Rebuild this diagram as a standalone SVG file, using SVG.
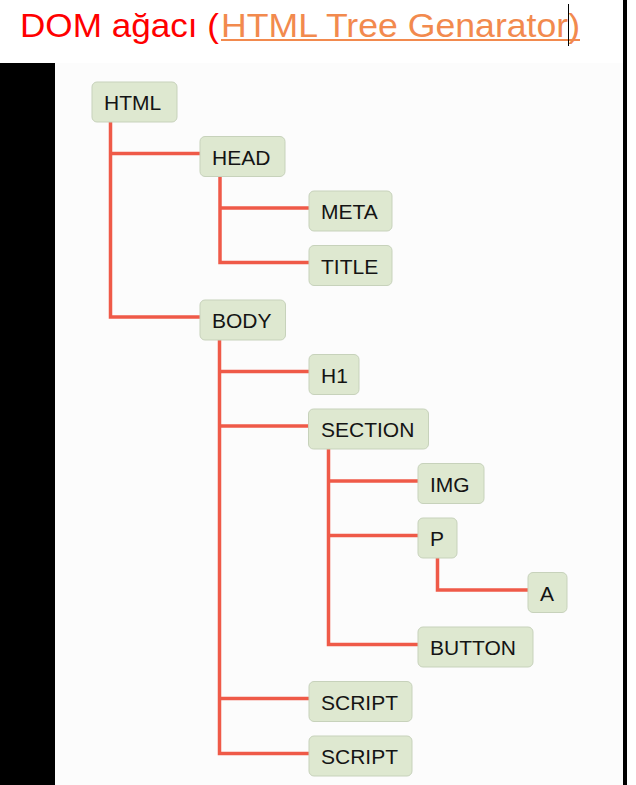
<svg xmlns="http://www.w3.org/2000/svg" width="636" height="785" viewBox="0 0 636 785">
  <style>
    .box { fill: #dee8d0; stroke: #c7d2bb; stroke-width: 1; }
    .lbl { font-family: "Liberation Sans", Arial, sans-serif; font-size: 21px; fill: #141414; }
    .conn { fill: none; stroke: #ef5a48; stroke-width: 3.5; stroke-linejoin: miter; }
    .title { font-family: "Liberation Sans", Arial, sans-serif; font-size: 34px; }
  </style>
  <rect x="0" y="0" width="636" height="785" fill="#ffffff"/>
  <rect x="55" y="63" width="568" height="722" fill="#fcfcfc"/>
  <rect x="0" y="63" width="55" height="722" fill="#000000"/>
  <rect x="623" y="0" width="4" height="785" fill="#000000"/>

  <g id="title">
    <text class="title" x="20" y="37" fill="#ff0000" textLength="199" lengthAdjust="spacingAndGlyphs">DOM ağacı (</text>
    <text class="title" x="221" y="37" fill="#f28a4e" textLength="359" lengthAdjust="spacingAndGlyphs">HTML Tree Genarator)</text>
    <line x1="221" y1="40" x2="580" y2="40" stroke="#f28a4e" stroke-width="2"/>
    <line x1="568.5" y1="4" x2="568.5" y2="46" stroke="#000000" stroke-width="1"/>
  </g>

  <g id="connectors">
    <path class="conn" d="M110.5 122 V317 H200 M110.5 153.5 H200"/>
    <path class="conn" d="M220 177 V262.5 H309 M220 208 H309"/>
    <path class="conn" d="M219.5 340 V753.5 H309 M219.5 371.5 H309 M219.5 426 H308.5 M219.5 698.5 H309"/>
    <path class="conn" d="M328.5 449 V644.5 H418 M328.5 481 H418 M328.5 535.5 H418"/>
    <path class="conn" d="M437.5 558 V590 H528"/>
  </g>

  <g id="node-html"><rect class="box" x="92" y="82" width="85" height="40" rx="5"/><text class="lbl" x="104" y="110">HTML</text></g>
  <g id="node-head"><rect class="box" x="200" y="136.5" width="85" height="40" rx="5"/><text class="lbl" x="212" y="164.5">HEAD</text></g>
  <g id="node-meta"><rect class="box" x="309" y="191" width="83" height="40" rx="5"/><text class="lbl" x="321" y="219">META</text></g>
  <g id="node-title"><rect class="box" x="309" y="245.5" width="83" height="40" rx="5"/><text class="lbl" x="321" y="273.5">TITLE</text></g>
  <g id="node-body"><rect class="box" x="200" y="300" width="85.5" height="40" rx="5"/><text class="lbl" x="212" y="328">BODY</text></g>
  <g id="node-h1"><rect class="box" x="309" y="354.5" width="50" height="40" rx="5"/><text class="lbl" x="321" y="382.5">H1</text></g>
  <g id="node-section"><rect class="box" x="308.5" y="409" width="120" height="40" rx="5"/><text class="lbl" x="321" y="437">SECTION</text></g>
  <g id="node-img"><rect class="box" x="418" y="463.5" width="66" height="40" rx="5"/><text class="lbl" x="430" y="491.5">IMG</text></g>
  <g id="node-p"><rect class="box" x="418" y="518" width="39" height="40" rx="5"/><text class="lbl" x="430" y="546">P</text></g>
  <g id="node-a"><rect class="box" x="528" y="572.5" width="39" height="40" rx="5"/><text class="lbl" x="540" y="600.5">A</text></g>
  <g id="node-button"><rect class="box" x="418" y="627" width="115" height="40" rx="5"/><text class="lbl" x="430" y="655">BUTTON</text></g>
  <g id="node-script1"><rect class="box" x="309" y="681.5" width="103" height="40" rx="5"/><text class="lbl" x="321" y="709.5">SCRIPT</text></g>
  <g id="node-script2"><rect class="box" x="309" y="736" width="103" height="40" rx="5"/><text class="lbl" x="321" y="764">SCRIPT</text></g>
</svg>
